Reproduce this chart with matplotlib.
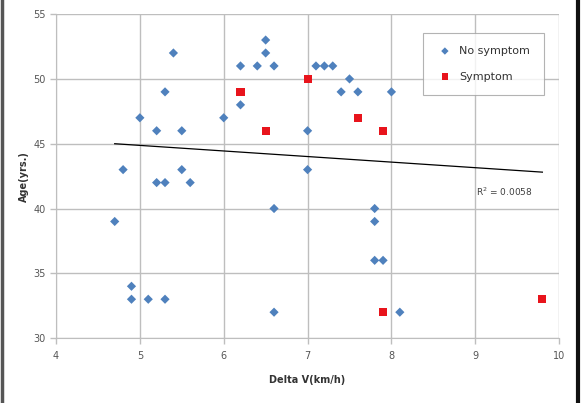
import numpy as np
import matplotlib
matplotlib.use("Agg")
import matplotlib.pyplot as plt
from matplotlib.lines import Line2D

# No symptom (blue diamonds)
noSympDV = [4.7, 4.8, 4.9, 4.9, 5.0, 5.1, 5.2, 5.2, 5.3, 5.3, 5.3, 5.4, 5.5, 5.5, 5.6,
            6.0, 6.2, 6.2, 6.4, 6.5, 6.5, 6.6, 6.6, 6.6, 7.0, 7.0, 7.1, 7.2, 7.3,
            7.4, 7.5, 7.6, 7.8, 7.8, 7.8, 7.9, 8.0, 8.1]
noSympAge = [39, 43, 34, 33, 47, 33, 46, 42, 49, 42, 33, 52, 46, 43, 42,
             47, 51, 48, 51, 53, 52, 51, 40, 32, 46, 43, 51, 51, 51,
             49, 50, 49, 40, 39, 36, 36, 49, 32]

# Symptom (red squares)
sympDV = [6.2, 6.5, 7.0, 7.6, 7.9, 7.9, 9.8]
sympAge = [49, 46, 50, 47, 46, 32, 33]

# trend line as shown in the chart
trendSlope = -0.43
trendIntercept = 47.02
trendRange = [4.7, 9.8]

xTicks = [4, 5, 6, 7, 8, 9, 10]
yTicks = [30, 35, 40, 45, 50, 55]

fig = plt.figure(figsize=(5.81, 4.03), dpi=100)
ax = fig.add_axes([0.0964, 0.161, 0.866, 0.804])

ax.scatter(noSympDV, noSympAge, marker='D', s=22, color='#4F81BD',
           edgecolors='none', label='No symptom', zorder=3)
ax.scatter(sympDV, sympAge, marker='s', s=34, color='#E8141C',
           edgecolors='none', label='Symptom', zorder=3)

xs = np.array(trendRange)
ax.plot(xs, trendSlope * xs + trendIntercept, color='black', lw=0.9, zorder=2)
ax.text(9.35, 41.3, 'R$^2$ = 0.0058', fontsize=6.5, color='#404040',
        ha='center', va='center')

ax.set_xlim(4, 10)
ax.set_ylim(30, 55)
ax.set_xticks(xTicks)
ax.set_yticks(yTicks)
ax.grid(True, color='#BEBEBE', lw=1.0)
ax.set_axisbelow(True)
for s in ['top', 'right']:
    ax.spines[s].set_visible(False)
for s in ['left', 'bottom']:
    ax.spines[s].set_color('#BEBEBE')
ax.tick_params(colors='#BEBEBE', length=4, width=1.0, labelcolor='#555555',
               labelsize=7)
ax.tick_params(axis='x', pad=5)

ax.set_xlabel('Delta V(km/h)', fontsize=7, fontweight='bold', color='#333333',
              labelpad=10)
ax.set_ylabel('Age(yrs.)', fontsize=7, fontweight='bold', color='#333333',
              labelpad=3)

leg = ax.legend(loc='upper right', bbox_to_anchor=(0.98, 0.96), fontsize=8,
                frameon=True, fancybox=False, edgecolor='#A0A0A0',
                handletextpad=0.5, borderpad=1.2, labelspacing=1.4,
                markerscale=0.8, handlelength=1.6)
leg.get_frame().set_linewidth(0.8)
for t in leg.get_texts():
    t.set_color('#333333')

# frame edges of the picture
fig.add_artist(Line2D([0.003, 0.003], [0, 1], color='#555555', lw=2.5))
fig.add_artist(Line2D([0.995, 0.995], [0, 1], color='#111111', lw=3))

fig.savefig('out.png', dpi=100)
